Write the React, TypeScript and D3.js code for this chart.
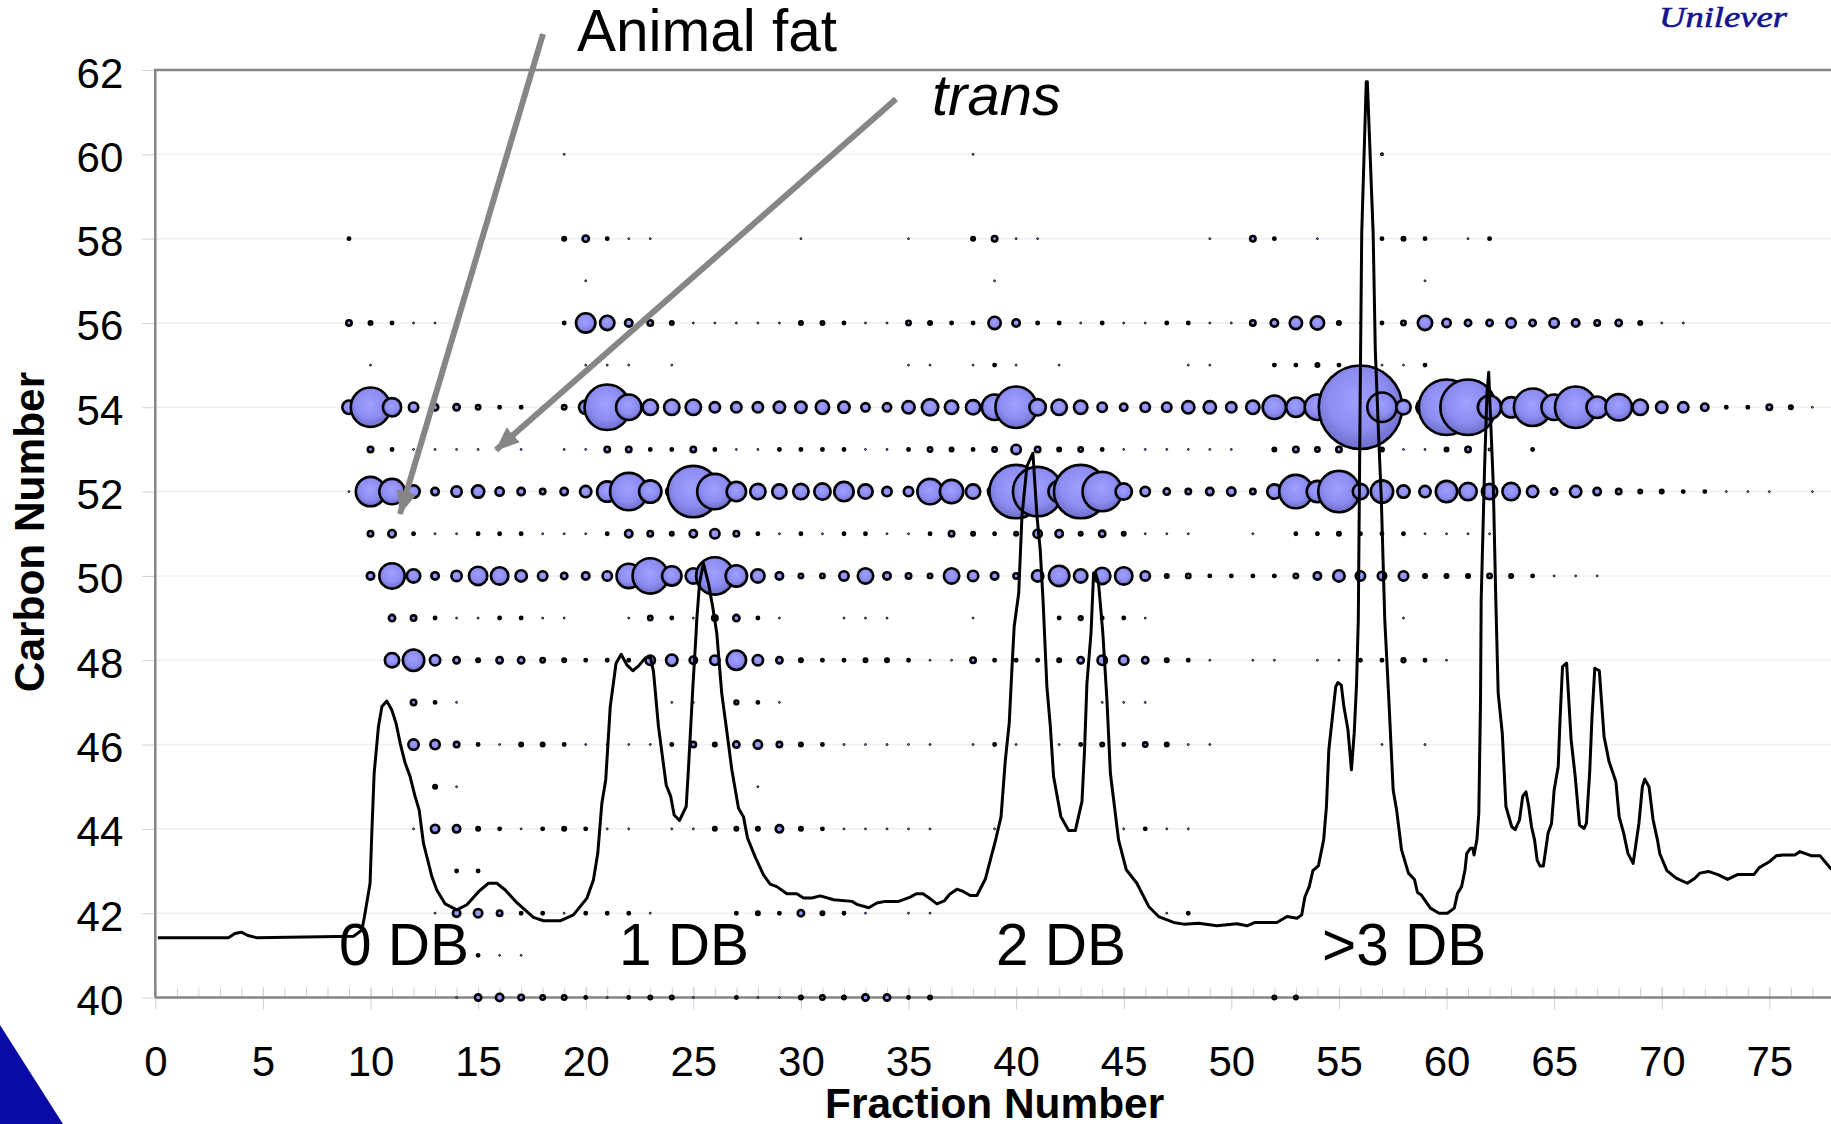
import React, { useRef, useEffect } from 'react';
import * as d3 from 'd3';

// Relative abundance per [fraction, value], one list per carbon number
const c40 = [[14,2],[15,20],[16,25],[17,16],[18,12],[19,12],[20,6],[21,2],[22,6],[23,9],[24,9],[25,2],[27,6],[28,2],[29,2],[30,9],[31,12],[32,9],[33,20],[34,20],[35,6],[36,9],[52,9],[53,9]];
const c41 = [[15,6],[16,2],[17,2]];
const c42 = [[13,2],[14,25],[15,30],[16,16],[17,6],[18,6],[19,2],[20,6],[21,6],[22,6],[23,2],[27,6],[28,9],[29,6],[30,20],[31,9],[32,6],[33,2],[35,2],[36,2],[47,2],[48,6]];
const c43 = [[14,6],[15,6]];
const c44 = [[12,2],[13,30],[14,25],[15,9],[16,6],[17,2],[18,6],[19,9],[20,6],[21,2],[22,2],[24,2],[25,2],[26,9],[27,9],[28,9],[29,25],[30,9],[31,6],[32,2],[33,2],[34,2],[35,2],[36,2],[39,2],[45,2],[46,6],[47,2],[48,2]];
const c45 = [[13,9],[14,2],[28,2]];
const c46 = [[12,42],[13,36],[14,16],[15,6],[16,2],[17,9],[18,9],[19,6],[20,2],[21,2],[22,2],[23,2],[24,6],[25,16],[26,9],[27,20],[28,30],[29,16],[30,9],[31,6],[32,2],[33,2],[34,2],[35,2],[36,2],[38,2],[39,6],[40,2],[42,2],[43,6],[44,9],[45,6],[46,12],[47,9],[48,2],[49,2],[57,2],[59,2]];
const c47 = [[12,16],[13,6],[14,2],[24,2],[25,2],[27,10],[28,6],[29,2],[44,2],[45,2],[46,2]];
const c48 = [[11,72],[12,144],[13,42],[14,20],[15,9],[16,20],[17,20],[18,12],[19,9],[20,6],[21,6],[22,6],[23,36],[24,49],[25,25],[26,36],[27,121],[28,42],[29,20],[30,9],[31,6],[32,6],[33,9],[34,9],[35,6],[36,2],[37,2],[38,16],[39,6],[40,6],[41,6],[42,9],[43,20],[44,36],[45,36],[46,20],[47,9],[48,6],[49,2],[51,2],[52,2],[54,2],[55,2],[56,6],[57,6],[58,10],[59,6],[60,2]];
const c49 = [[11,20],[12,16],[13,6],[14,2],[15,2],[16,6],[17,6],[18,2],[19,2],[22,2],[23,12],[24,6],[25,2],[26,16],[27,20],[28,6],[29,2],[32,2],[33,2],[34,2],[38,2],[42,6],[43,10],[44,6],[45,6],[46,2],[58,2]];
const c50 = [[10,25],[11,196],[12,64],[13,25],[14,42],[15,110],[16,100],[17,49],[18,36],[19,20],[20,25],[21,36],[22,182],[23,361],[24,121],[25,81],[26,400],[27,144],[28,64],[29,25],[30,12],[31,12],[32,36],[33,81],[34,25],[35,16],[36,12],[37,81],[38,42],[39,25],[40,16],[41,49],[42,132],[43,64],[44,90],[45,100],[46,36],[47,9],[48,12],[49,6],[50,6],[51,6],[52,6],[53,12],[54,25],[55,49],[56,36],[57,30],[58,36],[59,9],[60,9],[61,9],[62,12],[63,9],[64,6],[65,2],[66,2],[67,2]];
const c51 = [[10,16],[11,25],[12,6],[13,2],[14,2],[15,6],[16,6],[17,6],[18,2],[19,2],[20,2],[21,6],[22,25],[23,16],[24,9],[25,25],[26,36],[27,16],[28,6],[29,2],[30,6],[31,2],[32,6],[33,6],[34,2],[35,2],[36,6],[37,16],[38,9],[39,6],[40,9],[41,30],[42,25],[43,9],[44,20],[45,9],[46,2],[47,2],[48,2],[51,2],[53,6],[54,6],[55,9],[56,6],[57,6],[58,6],[59,2],[60,2],[61,2],[62,2]];
const c52 = [[9,2],[10,256],[11,196],[12,56],[13,25],[14,42],[15,56],[16,30],[17,25],[18,16],[19,25],[20,49],[21,132],[22,400],[23,156],[24,49],[25,729],[26,361],[27,121],[28,81],[29,72],[30,81],[31,90],[32,121],[33,72],[34,36],[35,36],[36,196],[37,169],[38,72],[39,64],[40,784],[41,676],[42,144],[43,784],[44,441],[45,90],[46,36],[47,20],[48,16],[49,25],[50,30],[51,16],[52,72],[53,324],[54,144],[55,484],[56,81],[57,156],[58,56],[59,49],[60,144],[61,100],[62,81],[63,100],[64,49],[65,20],[66,49],[67,25],[68,16],[69,9],[70,9],[71,6],[72,6],[73,2],[74,2],[75,2],[77,2]];
const c53 = [[10,16],[11,6],[12,2],[13,2],[14,2],[15,2],[17,2],[19,2],[20,2],[21,16],[22,16],[23,6],[24,6],[25,16],[26,6],[27,2],[28,2],[29,6],[30,6],[31,6],[32,6],[33,2],[34,2],[35,6],[36,12],[37,9],[38,6],[39,12],[40,36],[41,16],[42,9],[43,12],[44,6],[45,2],[46,2],[47,2],[48,2],[49,2],[50,2],[52,9],[53,16],[54,12],[55,16],[57,9],[58,2],[59,2],[60,9],[61,16],[62,4],[64,6]];
const c54 = [[9,64],[10,441],[11,110],[12,36],[13,20],[14,20],[15,12],[16,6],[17,6],[18,2],[19,12],[20,64],[21,576],[22,196],[23,81],[24,81],[25,81],[26,42],[27,42],[28,42],[29,49],[30,49],[31,64],[32,49],[33,30],[34,30],[35,56],[36,90],[37,64],[38,72],[39,196],[40,484],[41,90],[42,81],[43,64],[44,36],[45,25],[46,36],[47,36],[48,56],[49,56],[50,42],[51,64],[52,169],[53,121],[54,196],[55,100],[56,1849],[57,256],[58,72],[59,100],[60,841],[61,841],[62,169],[63,132],[64,400],[65,196],[66,484],[67,144],[68,210],[69,81],[70,49],[71,42],[72,25],[73,6],[74,6],[75,16],[76,9],[77,2]];
const c55 = [[10,2],[20,2],[21,2],[22,2],[24,2],[35,2],[36,2],[38,2],[39,6],[40,2],[42,2],[48,2],[49,2],[52,6],[53,6],[54,9],[55,6],[57,2],[58,2],[59,6]];
const c56 = [[9,16],[10,9],[11,6],[12,2],[13,2],[19,6],[20,121],[21,72],[22,25],[23,16],[24,9],[25,2],[26,2],[27,2],[28,2],[29,2],[30,9],[31,9],[32,6],[33,2],[34,2],[35,12],[36,9],[37,6],[38,6],[39,56],[40,25],[41,6],[42,6],[43,2],[44,6],[45,2],[46,2],[47,6],[48,6],[49,2],[50,2],[51,16],[52,25],[53,56],[54,64],[55,9],[56,2],[57,6],[58,12],[59,72],[60,30],[61,20],[62,20],[63,36],[64,20],[65,36],[66,25],[67,16],[68,20],[69,9],[70,2],[71,2]];
const c57 = [[20,2],[39,2],[59,2]];
const c58 = [[9,6],[19,9],[20,20],[21,6],[22,2],[23,2],[30,2],[35,2],[38,9],[39,16],[40,2],[41,2],[49,2],[51,16],[52,6],[54,2],[57,6],[58,9],[59,6],[61,2],[62,6]];
const c60 = [[19,2],[38,2],[57,4]];

const carbonRows = [
  [40, c40], [41, c41], [42, c42], [43, c43], [44, c44], [45, c45], [46, c46], [47, c47], [48, c48],
  [49, c49], [50, c50], [51, c51], [52, c52], [53, c53], [54, c54], [55, c55], [56, c56], [57, c57],
  [58, c58], [60, c60],
];

// Chromatogram trace, [fraction, height read on the carbon axis]
const trace = [
  [0.12,41.42],[3.4,41.42],[3.7,41.52],[4,41.55],[4.3,41.47],[4.7,41.42],[9.21,41.45],[9.6,41.6],[9.72,41.92],[9.98,42.71],
  [10.06,43.9],[10.17,45.32],[10.37,46.43],[10.53,46.9],[10.76,47.03],[10.99,46.82],[11.19,46.5],[11.38,46.03],[11.61,45.56],
  [11.84,45.24],[12.07,44.77],[12.26,44.45],[12.46,43.66],[12.85,42.87],[13.08,42.55],[13.47,42.22],[14.01,42.08],[14.48,42.2],
  [15.02,42.51],[15.48,42.71],[15.87,42.71],[16.26,42.55],[16.8,42.25],[17.57,41.9],[18.04,41.82],[18.81,41.82],[19.43,41.96],
  [20.05,42.35],[20.36,42.79],[20.56,43.42],[20.75,44.61],[20.93,45.16],[21.14,46.9],[21.41,47.93],[21.65,48.14],[21.91,47.89],
  [22.19,47.75],[22.45,47.86],[22.76,48.05],[23,48.09],[23.15,47.73],[23.38,46.43],[23.74,45.04],[23.95,44.77],[24.11,44.33],
  [24.36,44.2],[24.67,44.53],[24.78,45.48],[24.98,47.37],[25.13,48.64],[25.16,48.96],[25.29,49.83],[25.47,50.3],[25.7,49.83],
  [25.9,49.27],[26.09,48.64],[26.32,47.22],[26.63,46.03],[26.79,45.4],[27.1,44.49],[27.33,44.29],[27.52,43.78],[27.87,43.34],
  [28.26,42.91],[28.57,42.69],[28.88,42.63],[29.35,42.46],[29.81,42.46],[30.12,42.36],[30.51,42.36],[30.9,42.41],[31.52,42.32],
  [32.37,42.28],[32.6,42.21],[33.15,42.13],[33.53,42.24],[33.92,42.28],[34.54,42.28],[35.08,42.38],[35.36,42.46],[35.67,42.46],
  [36.01,42.34],[36.32,42.22],[36.66,42.29],[36.91,42.45],[37.25,42.57],[37.56,42.51],[37.87,42.42],[38.18,42.42],[38.57,42.81],
  [38.8,43.26],[39.03,43.7],[39.3,44.29],[39.5,45.64],[39.68,46.51],[39.81,47.85],[39.91,48.8],[40.12,49.59],[40.27,51.41],
  [40.5,52.6],[40.78,52.91],[40.97,51.41],[41.12,50.62],[41.25,49.43],[41.43,47.37],[41.59,46.43],[41.74,45.24],[42.08,44.29],
  [42.44,43.96],[42.75,43.96],[43.06,44.65],[43.18,45.87],[43.29,47.45],[43.48,48.64],[43.6,50.07],[43.68,50.08],[43.83,49.83],
  [44.03,48.64],[44.22,47.06],[44.38,45.32],[44.76,43.74],[45.12,43.03],[45.61,42.71],[46.16,42.16],[46.62,41.92],[47.32,41.78],
  [47.78,41.74],[48.48,41.76],[49.33,41.7],[50.26,41.75],[50.73,41.7],[51.11,41.78],[52.12,41.78],[52.59,41.92],[53.05,41.88],
  [53.27,41.96],[53.42,42.39],[53.62,42.63],[53.79,43.01],[54.05,43.13],[54.29,43.74],[54.42,44.53],[54.53,45.87],[54.85,47.37],
  [54.95,47.47],[55.11,47.41],[55.23,46.9],[55.42,46.35],[55.58,45.4],[55.71,46.27],[55.82,47.45],[55.9,48.96],[56,54.97],
  [56.06,58.13],[56.27,61.72],[56.32,61.72],[56.59,58.13],[56.69,55.36],[56.84,53.39],[56.97,51.81],[57.13,48.96],[57.32,47.06],
  [57.52,44.92],[57.68,44.45],[57.91,43.5],[58.23,42.95],[58.51,42.8],[58.65,42.49],[58.83,42.43],[59.25,42.12],[59.65,42],
  [60.04,42],[60.36,42.12],[60.51,42.47],[60.7,42.63],[60.86,43.03],[60.94,43.42],[61.11,43.54],[61.22,43.54],[61.28,43.38],
  [61.41,43.74],[61.5,44.37],[61.58,47.06],[61.61,49.43],[61.77,52.6],[61.88,54.34],[61.96,54.83],[62.01,54.18],[62.17,52.2],
  [62.29,49.43],[62.4,47.22],[62.59,46.27],[62.76,44.53],[63.03,44.05],[63.19,43.98],[63.39,44.21],[63.54,44.77],[63.69,44.88],
  [63.82,44.53],[63.95,44.05],[64.09,43.74],[64.21,43.26],[64.34,43.12],[64.5,43.12],[64.72,43.9],[64.88,44.13],[65,44.92],
  [65.19,45.48],[65.28,46.66],[65.39,47.85],[65.58,47.93],[65.79,46.11],[65.98,45.24],[66.18,44.09],[66.39,44.01],[66.5,44.13],
  [66.65,45.32],[66.76,46.66],[66.89,47.81],[67.1,47.75],[67.32,46.19],[67.55,45.6],[67.87,45.12],[68.02,44.29],[68.23,43.9],
  [68.43,43.42],[68.67,43.18],[68.94,44.13],[69.1,45],[69.21,45.18],[69.41,45],[69.6,44.21],[69.8,43.74],[69.91,43.41],
  [70.24,43.01],[70.67,42.83],[71.19,42.71],[71.54,42.83],[71.77,42.95],[72.17,42.99],[72.64,42.91],[73.06,42.8],[73.54,42.92],
  [74.29,42.92],[74.53,43.08],[75,43.22],[75.32,43.36],[75.63,43.38],[76.18,43.38],[76.42,43.46],[76.97,43.36],[77.36,43.36],
  [77.88,43.04],
];

const xMajorTicks = d3.range(0, 76, 5);
const xMinorTicks = d3.range(0, 79);
const yTicks = d3.range(40, 63, 2);

const dbLabels = [
  { text: '0 DB', x: 339 },
  { text: '1 DB', x: 619 },
  { text: '2 DB', x: 996 },
  { text: '>3 DB', x: 1322 },
];

const FONT = '"Liberation Sans", Arial, sans-serif';

const App = () => {
  const svgRef = useRef<SVGSVGElement>(null);

  useEffect(() => {
    const svg = d3.select(svgRef.current);
    svg.selectAll('*').remove();

    const x = d3.scaleLinear().domain([0, 78]).range([155.3, 1833.9]);
    const y = d3.scaleLinear().domain([40, 62]).range([997.5, 70]);
    const size = d3.scaleSqrt().domain([0, 1849]).range([0, 43]);

    const defs = svg.append('defs');
    const grad = defs.append('radialGradient').attr('id', 'bubble').attr('cx', '48%').attr('cy', '42%').attr('r', '60%');
    grad.append('stop').attr('offset', '0%').attr('stop-color', '#a0a0ff');
    grad.append('stop').attr('offset', '60%').attr('stop-color', '#8c8cf2');
    grad.append('stop').attr('offset', '100%').attr('stop-color', '#6a6ac4');

    const arrow = defs.append('marker').attr('id', 'head').attr('markerUnits', 'userSpaceOnUse')
      .attr('viewBox', '0 0 24 20').attr('refX', 23).attr('refY', 10)
      .attr('markerWidth', 24).attr('markerHeight', 20).attr('orient', 'auto');
    arrow.append('path').attr('d', 'M0,0L24,10L0,20Z').attr('fill', '#868686');

    // Faint rows behind the bubbles
    svg.append('g').selectAll('line')
      .data(yTicks.slice(1, -1))
      .join('line')
      .attr('x1', x(0)).attr('x2', 1831)
      .attr('y1', d => y(d)).attr('y2', d => y(d))
      .attr('stroke', '#f0f0f0').attr('stroke-width', 1.5);

    // Axes
    const xMinor = svg.append('g').attr('transform', `translate(0,${y(40)})`)
      .call(d3.axisTop(x).tickValues(xMinorTicks).tickSize(10).tickFormat(() => ''));
    xMinor.select('.domain').remove();
    xMinor.selectAll('line').attr('stroke', '#cfcfcf');

    const xAxis = svg.append('g').attr('transform', `translate(0,${y(40)})`)
      .call(d3.axisBottom(x).tickValues(xMajorTicks).tickSize(12));
    xAxis.select('.domain').remove();
    xAxis.selectAll('line').attr('y1', -10).attr('stroke', '#cfcfcf');
    xAxis.selectAll('text').attr('y', 78).attr('dy', 0)
      .attr('font-family', FONT).attr('font-size', 42).attr('fill', '#000');

    const yAxis = svg.append('g').attr('transform', `translate(${x(0)},0)`)
      .call(d3.axisLeft(y).tickValues(yTicks).tickSize(13));
    yAxis.select('.domain').remove();
    yAxis.selectAll('line').attr('stroke', '#cfcfcf');
    yAxis.selectAll('text').attr('x', -32).attr('y', 17).attr('dy', 0)
      .attr('font-family', FONT).attr('font-size', 42).attr('fill', '#000');

    svg.append('path')
      .attr('d', `M${x(0)},${y(40)}V${y(62)}H1831`)
      .attr('fill', 'none').attr('stroke', '#858585').attr('stroke-width', 2.5);
    svg.append('line')
      .attr('x1', x(0)).attr('x2', 1831).attr('y1', y(40)).attr('y2', y(40))
      .attr('stroke', '#858585').attr('stroke-width', 2.5);

    // Bubbles, later fractions on top
    const stroke = (v: number) => (size(v) < 1.8 ? 0.9 : 2.6);
    const points = carbonRows.flatMap(([carbon, row]: any) =>
      row.map(([fraction, value]: number[]) => ({ carbon, fraction, value })));

    svg.append('g').selectAll('circle')
      .data(points)
      .join('circle')
      .attr('cx', (d: any) => x(d.fraction))
      .attr('cy', (d: any) => y(d.carbon))
      .attr('r', (d: any) => Math.max(0.5, size(d.value) - stroke(d.value) / 2))
      .attr('fill', 'url(#bubble)')
      .attr('stroke', '#000')
      .attr('stroke-width', (d: any) => stroke(d.value));

    // Chromatogram
    const line = d3.line().x((d: any) => x(d[0])).y((d: any) => y(d[1]));
    svg.append('path')
      .attr('d', line(trace as any))
      .attr('fill', 'none').attr('stroke', '#000').attr('stroke-width', 3)
      .attr('stroke-linejoin', 'round');

    // Labels
    svg.append('g').selectAll('text')
      .data(dbLabels)
      .join('text')
      .attr('x', d => d.x).attr('y', 965)
      .attr('font-family', FONT).attr('font-size', 58.5)
      .text(d => d.text);

    svg.append('text').attr('x', 577).attr('y', 51)
      .attr('font-family', FONT).attr('font-size', 58.5).text('Animal fat');
    svg.append('text').attr('x', 932).attr('y', 115)
      .attr('font-family', FONT).attr('font-size', 58).attr('font-style', 'italic').text('trans');

    svg.append('text').attr('x', x(39)).attr('y', 1118).attr('text-anchor', 'middle')
      .attr('font-family', FONT).attr('font-size', 42.4).attr('font-weight', 'bold').text('Fraction Number');
    svg.append('text').attr('transform', 'translate(44,532) rotate(-90)').attr('text-anchor', 'middle')
      .attr('font-family', FONT).attr('font-size', 42.4).attr('font-weight', 'bold').text('Carbon Number');

    // Call-out arrows
    svg.append('line').attr('x1', 543).attr('y1', 34).attr('x2', 400).attr('y2', 514)
      .attr('stroke', '#868686').attr('stroke-width', 6).attr('marker-end', 'url(#head)');
    svg.append('line').attr('x1', 896).attr('y1', 99).attr('x2', 496).attr('y2', 450)
      .attr('stroke', '#868686').attr('stroke-width', 6).attr('marker-end', 'url(#head)');

    // Slide furniture
    svg.append('path').attr('d', 'M0,1025L63,1124H0Z').attr('fill', '#0a0aa6');
    svg.append('text').attr('x', 1659).attr('y', 27).attr('textLength', 128)
      .attr('lengthAdjust', 'spacingAndGlyphs')
      .attr('font-family', '"Liberation Serif", serif').attr('font-style', 'italic').attr('font-size', 30)
      .attr('fill', '#14148c').attr('stroke', '#14148c').attr('stroke-width', 0.6).text('Unilever');
  }, []);

  return (
    <svg
      ref={svgRef}
      width={1831}
      height={1124}
      style={{ position: 'fixed', left: 0, top: 0, background: '#fff', display: 'block' }}
    />
  );
};

export default App;
